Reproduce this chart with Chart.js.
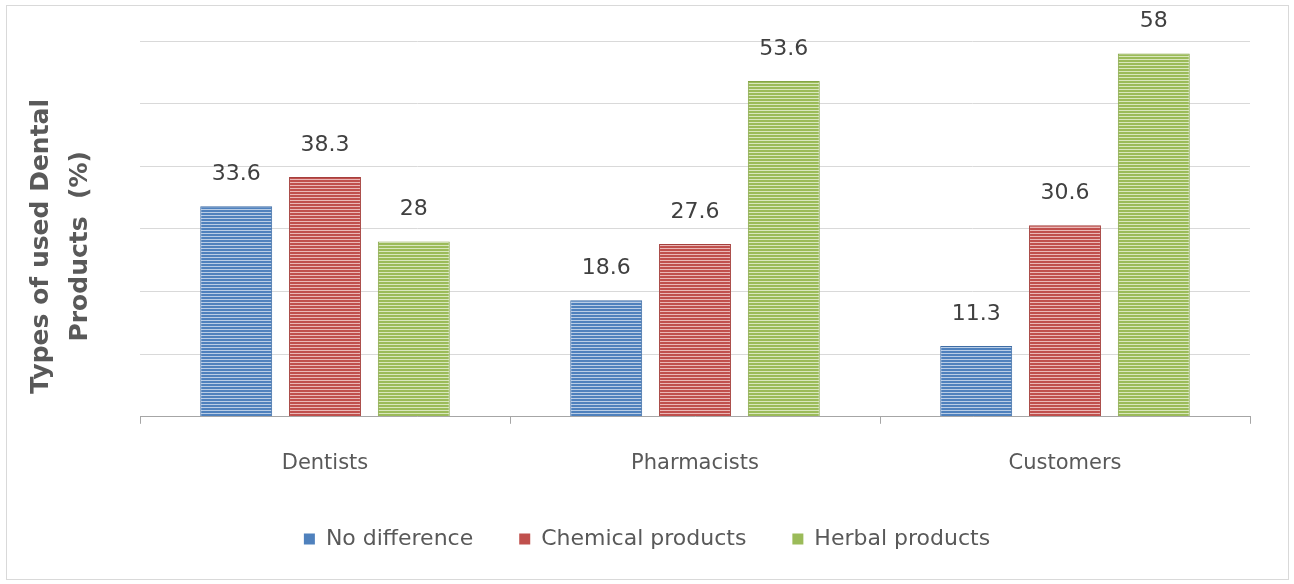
<!DOCTYPE html>
<html>
<head>
<meta charset="utf-8">
<script src="https://cdn.jsdelivr.net/npm/chart.js@4/dist/chart.umd.min.js"></script>
<style>
  html, body { margin: 0; padding: 0; background: #fff; }
  #wrap { position: relative; width: 1294px; height: 584px; }
  #frame { position: absolute; left: 6px; top: 5px; width: 1281px; height: 573px; border: 1px solid #d9d9d9; pointer-events: none; }
  canvas { position: absolute; left: 0; top: 0; }
</style>
</head>
<body>
<div id="wrap">
  <div id="frame"></div>
  <canvas id="c" width="1294" height="584"></canvas>
</div>
<script>
const categories = ["Dentists", "Pharmacists", "Customers"];
const seriesNames = ["No difference", "Chemical products", "Herbal products"];
const noDifference = [33.6, 18.6, 11.3];
const chemicalProducts = [38.3, 27.6, 30.6];
const herbalProducts = [28, 53.6, 58];
const yTicks = [0, 10, 20, 30, 40, 50, 60];
const yTitle = ["Types of used Dental", "Products  (%)"];

const FONT = "'DejaVu Sans', sans-serif";

function stripe(color, light) {
  const p = document.createElement('canvas');
  p.width = 4; p.height = 3;
  const g = p.getContext('2d');
  g.fillStyle = color; g.fillRect(0, 0, 4, 3);
  g.fillStyle = light; g.fillRect(0, 2, 4, 1);
  return g.createPattern(p, 'repeat');
}
const ctx = document.getElementById('c').getContext('2d');
const colors = [
  { solid: '#4f81bd', dark: '#3f6da5', light: '#b9cde6' },
  { solid: '#c0504d', dark: '#a5403d', light: '#eab8b7' },
  { solid: '#9bbb59', dark: '#84a445', light: '#d9e7bd' }
];
const values = [noDifference, chemicalProducts, herbalProducts];

const labelPlugin = {
  id: 'valueLabels',
  afterDatasetsDraw(chart) {
    const c = chart.ctx;
    c.save();
    c.font = "22px " + FONT;
    c.fillStyle = '#404040';
    c.textAlign = 'center';
    c.textBaseline = 'middle';
    chart.data.datasets.forEach((ds, i) => {
      chart.getDatasetMeta(i).data.forEach((bar, j) => {
        c.fillText(String(ds.data[j]), bar.x, bar.y - 32);
      });
    });
    c.restore();
  }
};

const legendPlugin = {
  id: 'bottomLegend',
  afterDraw(chart) {
    const c = chart.ctx;
    c.save();
    c.font = "22px " + FONT;
    c.textBaseline = 'middle';
    const box = 11, gapText = 11, gapItem = 46;
    const items = chart.data.datasets.map((ds, i) => ({ text: ds.label, color: colors[i].solid, w: c.measureText(ds.label).width }));
    let total = items.reduce((s, it) => s + box + gapText + it.w, 0) + gapItem * (items.length - 1);
    let x = chart.width / 2 - total / 2;
    const y = 539;
    items.forEach(it => {
      c.fillStyle = it.color;
      c.fillRect(x, y - box / 2, box, box);
      x += box + gapText;
      c.fillStyle = '#595959';
      c.textAlign = 'left';
      c.fillText(it.text, x, y);
      x += it.w + gapItem;
    });
    c.restore();
  }
};

new Chart(ctx, {
  type: 'bar',
  data: {
    labels: categories,
    datasets: seriesNames.map((n, i) => ({
      label: n,
      data: values[i],
      backgroundColor: stripe(colors[i].solid, colors[i].light),
      borderColor: colors[i].dark,
      borderWidth: 1,
      categoryPercentage: 0.72,
      barPercentage: 0.81
    }))
  },
  options: {
    responsive: false,
    animation: false,
    devicePixelRatio: 1,
    layout: { padding: { left: 22, right: 44, top: 41, bottom: 81 } },
    plugins: {
      legend: { display: false },
      tooltip: { enabled: false }
    },
    scales: {
      x: {
        grid: { display: true, drawOnChartArea: false, offset: true, color: '#a6a6a6', tickLength: 7 },
        border: { display: true, color: '#a6a6a6', width: 1 },
        ticks: { font: { family: FONT, size: 21 }, color: '#595959', padding: 27 }
      },
      y: {
        min: 0, max: 60,
        afterBuildTicks(scale) { scale.ticks = yTicks.map(v => ({ value: v })); },
        afterFit(scale) { scale.width = 118; },
        grid: { color: '#d9d9d9', drawTicks: false },
        border: { display: false },
        ticks: { display: false },
        title: {
          display: true,
          text: yTitle.map(s => s + "    "),
          font: { family: FONT, size: 25, weight: 'bold', lineHeight: 1.55 },
          color: '#595959',
          padding: 0
        }
      }
    }
  },
  plugins: [labelPlugin, legendPlugin]
});
</script>
</body>
</html>
